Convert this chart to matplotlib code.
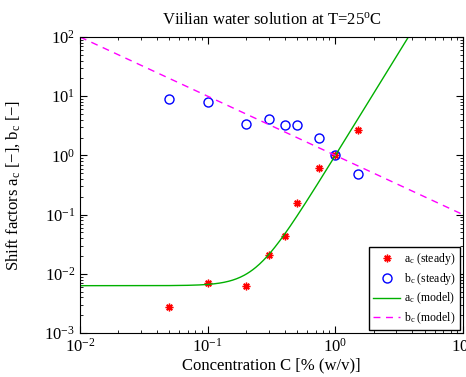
import numpy as np
import matplotlib
matplotlib.use("Agg")
import matplotlib.pyplot as plt

plt.rcParams['font.family'] = ['Liberation Serif', 'DejaVu Serif']
plt.rcParams['mathtext.fontset'] = 'custom'
plt.rcParams['mathtext.rm'] = 'Liberation Serif'
plt.rcParams['mathtext.it'] = 'Liberation Serif:italic'

# measured shift factors
conc = [0.05, 0.1, 0.2, 0.3, 0.4, 0.5, 0.75, 1.0, 1.5]
a_steady = [0.0028, 0.0070, 0.0062, 0.021, 0.043, 0.16, 0.62, 1.0, 2.7]
b_steady = [9.0, 8.1, 3.4, 4.2, 3.3, 3.3, 2.0, 1.0, 0.49]

# model parameters: a_c = a0 + (1 - a0) * C^n,  b_c = C^-1
a0 = 0.0063
n_exp = 3.5
b_slope = -1.0

c_model = np.logspace(-2, 1, 400)
a_model = a0 + (1 - a0) * c_model ** n_exp
b_model = c_model ** b_slope

fig = plt.figure(figsize=(4.66, 3.77), dpi=100)
ax = fig.add_axes([80 / 466, 1 - 333 / 377, 383 / 466, 296 / 377])

# matlab style asterisk: + and x together
ax.loglog(conc, a_steady, linestyle='none', marker=(8, 2, 0), color='red',
          markersize=5.5, mew=1.0, label=r'a$_{\rm c}$ (steady)')
ax.loglog(conc, b_steady, 'o', mfc='none', mec='blue', markersize=6.5, mew=1.0,
          label=r'b$_{\rm c}$ (steady)')
ax.loglog(c_model, a_model, '-', color='#00b000', lw=1.0, label=r'a$_{\rm c}$ (model)')
ax.loglog(c_model, b_model, '--', color='magenta', lw=1.0, dashes=(5, 4),
          label=r'b$_{\rm c}$ (model)')

ax.set_xlim(1e-2, 1e1)
ax.set_ylim(1e-3, 1e2)
ax.tick_params(which='both', direction='in', top=True, right=True, labelsize=12)
ax.tick_params(which='major', length=5)
ax.tick_params(which='minor', length=2.5)
ax.set_title('Viilian water solution at T=25$^{\\rm o}$C', fontsize=12, pad=9)
ax.set_xlabel('Concentration C [% (w/v)]', fontsize=12, labelpad=1)
ax.set_ylabel(r'Shift factors a$_{\rm c}$ [$-$], b$_{\rm c}$ [$-$]', fontsize=12)
ax.yaxis.set_label_coords(-58 / 383, 0.5)

leg = ax.legend(loc='lower right', fontsize=8.5, fancybox=False, edgecolor='black',
                framealpha=1, borderaxespad=0.25, handlelength=2.3, labelspacing=0.35,
                handletextpad=0.3, borderpad=0.35)
leg.get_frame().set_linewidth(1.0)

fig.savefig('out.png', dpi=100)
